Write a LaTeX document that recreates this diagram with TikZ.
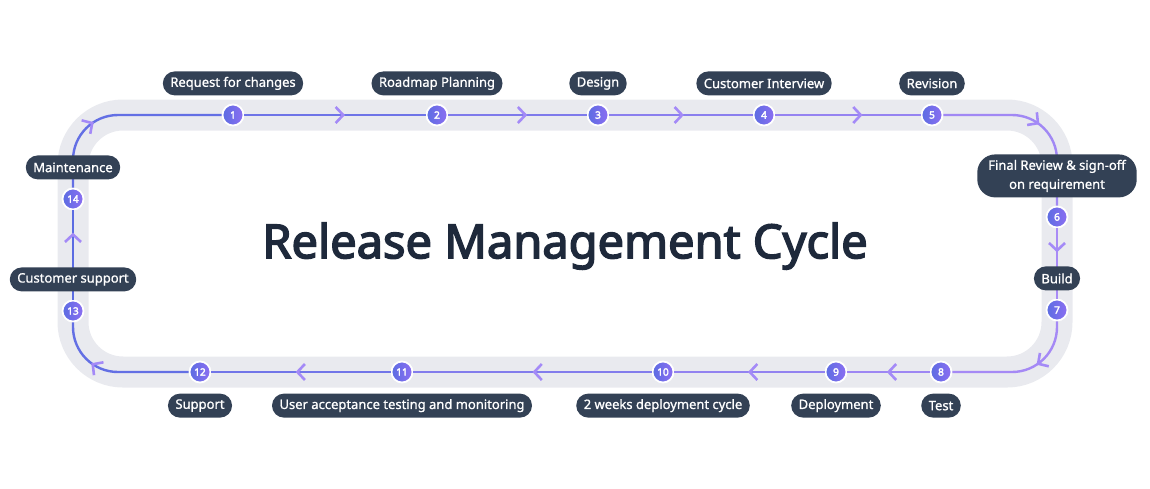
\documentclass[tikz,border=0pt]{standalone}
\usepackage{fontspec}
\setmainfont{Noto Sans}[FakeBold=1]
\newfontfamily\titlefont{Noto Sans}[FakeBold=3.2]
\usetikzlibrary{positioning,arrows.meta,decorations.markings}

\definecolor{bandgray}{HTML}{E9EAEF}
\definecolor{slatebox}{HTML}{334155}
\definecolor{titleink}{HTML}{1E293B}
\definecolor{lineblue}{HTML}{5B6CE2}
\definecolor{linelav}{HTML}{A98BF6}
\definecolor{tiplav}{HTML}{A48AF7}
\definecolor{dotA}{HTML}{8C6EF2}
\definecolor{dotB}{HTML}{5C6DE2}

\tikzset{
  stepdot/.style={circle, minimum size=21pt, inner sep=0pt, draw=white, line width=1.8pt,
    left color=dotB, right color=dotA, text=white, font=\titlefont\fontsize{10}{10}\selectfont},
  tag/.style={fill=slatebox, text=white, rounded corners=12pt, minimum height=24pt,
    inner xsep=7.5pt, inner ysep=0pt, font=\fontsize{13}{15}\selectfont},
  flow/.style={line width=2.4pt, draw=linelav!#1!lineblue, rounded corners=45pt},
  midtip/.style={postaction={decorate}, decoration={markings, mark=at position #1 with
    {\arrow{Straight Barb[length=7.5pt,width=16pt,line width=2.6pt,color=tiplav]}}}},
}

\begin{document}
\begin{tikzpicture}[x=1pt,y=-1pt]
  \useasboundingbox (0,0) rectangle (1150,488);

  % grey track
  \draw[bandgray, line width=31pt, rounded corners=50pt] (73,115) rectangle (1057,372);

  % step markers
  \node[stepdot] (n1) at (233,115) {1};
  \node[stepdot] (n2) at (437,115) {2};
  \node[stepdot] (n3) at (598,115) {3};
  \node[stepdot] (n4) at (764,115) {4};
  \node[stepdot] (n5) at (932,115) {5};
  \node[stepdot] (n6) at (1057,217) {6};
  \node[stepdot] (n7) at (1057,310) {7};
  \node[stepdot] (n8) at (941,372) {8};
  \node[stepdot] (n9) at (836,372) {9};
  \node[stepdot] (n10) at (663,372) {10};
  \node[stepdot] (n11) at (402,372) {11};
  \node[stepdot] (n12) at (200,372) {12};
  \node[stepdot] (n13) at (73,311) {13};
  \node[stepdot] (n14) at (73,199) {14};

  % cycle
  \draw[flow=10, midtip=0.36] (n14) |- (n1);
  \draw[flow=25, midtip=0.555] (n1) -- (n2);
  \draw[flow=45, midtip=0.57] (n2) -- (n3);
  \draw[flow=60, midtip=0.52] (n3) -- (n4);
  \draw[flow=75, midtip=0.6] (n4) -- (n5);
  \draw[flow=90, midtip=0.53] (n5) -| (n6);
  \draw[flow=100, midtip=0.34] (n6) -- (n7);
  \draw[flow=95, midtip=0.37] (n7) |- (n8);
  \draw[flow=85, midtip=0.52] (n8) -- (n9);
  \draw[flow=70, midtip=0.51] (n9) -- (n10);
  \draw[flow=50, midtip=0.5] (n10) -- (n11);
  \draw[flow=28, midtip=0.53] (n11) -- (n12);
  \draw[flow=10, midtip=0.68] (n12) -| (n13);
  \draw[flow=0, midtip=0.75] (n13) -- (n14);

  % labels
  \node[tag, above=8pt of n1] (t1) {Request for changes};
  \node[tag, above=8pt of n2] (t2) {Roadmap Planning};
  \node[tag, above=8pt of n3] (t3) {Design};
  \node[tag, above=8pt of n4] (t4) {Customer Interview};
  \node[tag, above=8pt of n5] (t5) {Revision};
  \node[tag, above=8pt of n6, align=center, minimum height=43pt, inner xsep=11pt,
    rounded corners=18pt, font=\fontsize{13}{19}\selectfont] (t6)
    {Final Review \& sign-off\\on requirement};
  \node[tag, above=8pt of n7] (t7) {Build};
  \node[tag, below=10pt of n8] (t8) {Test};
  \node[tag, below=10pt of n9] (t9) {Deployment};
  \node[tag, below=10pt of n10] (t10) {2 weeks deployment cycle};
  \node[tag, below=10pt of n11] (t11) {User acceptance testing and monitoring};
  \node[tag, below=10pt of n12] (t12) {Support};
  \node[tag, above=8pt of n13] (t13) {Customer support};
  \node[tag, above=8pt of n14] (t14) {Maintenance};

  \node[text=titleink, font=\titlefont\fontsize{47}{52}\selectfont] (title) at (565,246)
    {Release Management Cycle};
\end{tikzpicture}
\end{document}
